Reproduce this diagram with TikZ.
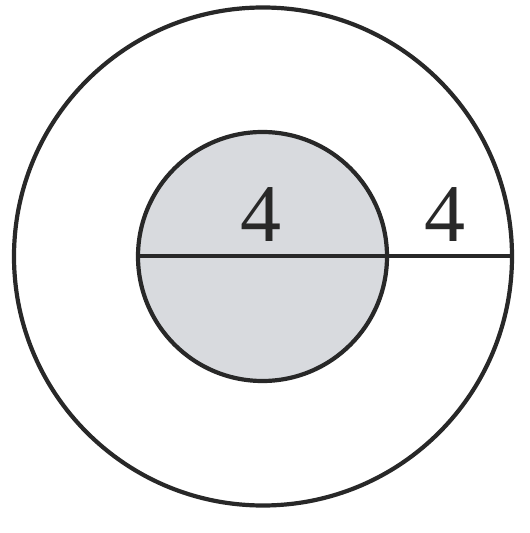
\documentclass[tikz,border=0pt]{standalone}
\usepackage{fontspec}
\setmainfont{Liberation Serif}
\definecolor{diskgray}{RGB}{216,218,222}
\definecolor{ink}{RGB}{40,40,40}
\tikzset{
  ring/.style={circle, draw=ink, line width=4.2pt, inner sep=0pt},
  numlabel/.style={anchor=base, inner sep=0pt, text=ink, font=\fontsize{82}{82}\selectfont}
}
\begin{document}
\begin{tikzpicture}[x=1pt,y=1pt]
\useasboundingbox (0,0) rectangle (530,533);
\node[ring, minimum size=498pt] (outer) at (263,276.5) {};
\node[ring, fill=diskgray, minimum size=249pt] (inner) at (262.5,276.5) {};
\draw[ink, line width=4pt] (inner.west) -- (outer.east);
\node[numlabel] (a) at (261,291) {4};
\node[numlabel] (b) at (445,291) {4};
\end{tikzpicture}
\end{document}
